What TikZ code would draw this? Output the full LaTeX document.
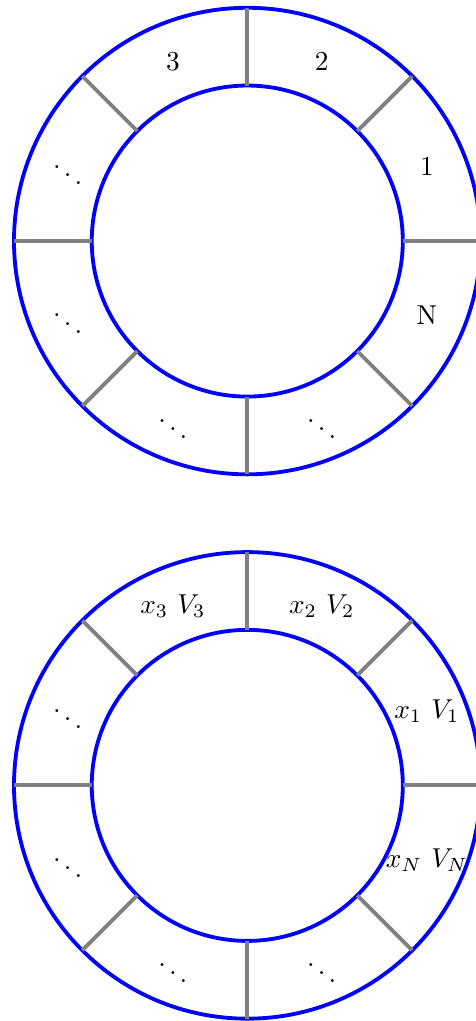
\documentclass[tikz,border=0pt]{standalone}
\begin{document}
\begin{tikzpicture}[ring/.style={blue, line width=1.4pt}, spoke/.style={gray, line width=1.4pt}]
    \useasboundingbox (-3.18,-10.03) rectangle (2.94,3.10);
    % upper ring: cell numbers
    \begin{scope}
      \draw[ring] (0,0) circle (3);
      \draw[ring] (0,0) circle (2);
      \foreach \a in {0,45,...,315} {
        \draw[spoke] (\a:2) -- (\a:3);
      }
      \foreach \a/\t/\n in {22.5/1/c1, 67.5/2/c2, 112.5/3/c3, 157.5/$\ddots$/c4, 202.5/$\ddots$/c5, 247.5/$\ddots$/c6, 292.5/$\ddots$/c7, 337.5/N/cN} {
        \node (\n) at (\a:2.5) {\t};
      }
    \end{scope}
    % lower ring: positions and potentials
    \begin{scope}[shift={(0,-7)}]
      \draw[ring] (0,0) circle (3);
      \draw[ring] (0,0) circle (2);
      \foreach \a in {0,45,...,315} {
        \draw[spoke] (\a:2) -- (\a:3);
      }
      \foreach \a/\t/\n in {22.5/{$x_1\ V_1$}/v1, 67.5/{$x_2\ V_2$}/v2, 112.5/{$x_3\ V_3$}/v3, 157.5/$\ddots$/v4, 202.5/$\ddots$/v5, 247.5/$\ddots$/v6, 292.5/$\ddots$/v7, 337.5/{$x_N\ V_N$}/vN} {
        \node (\n) at (\a:2.5) {\t};
      }
    \end{scope}
  \end{tikzpicture}
\end{document}
